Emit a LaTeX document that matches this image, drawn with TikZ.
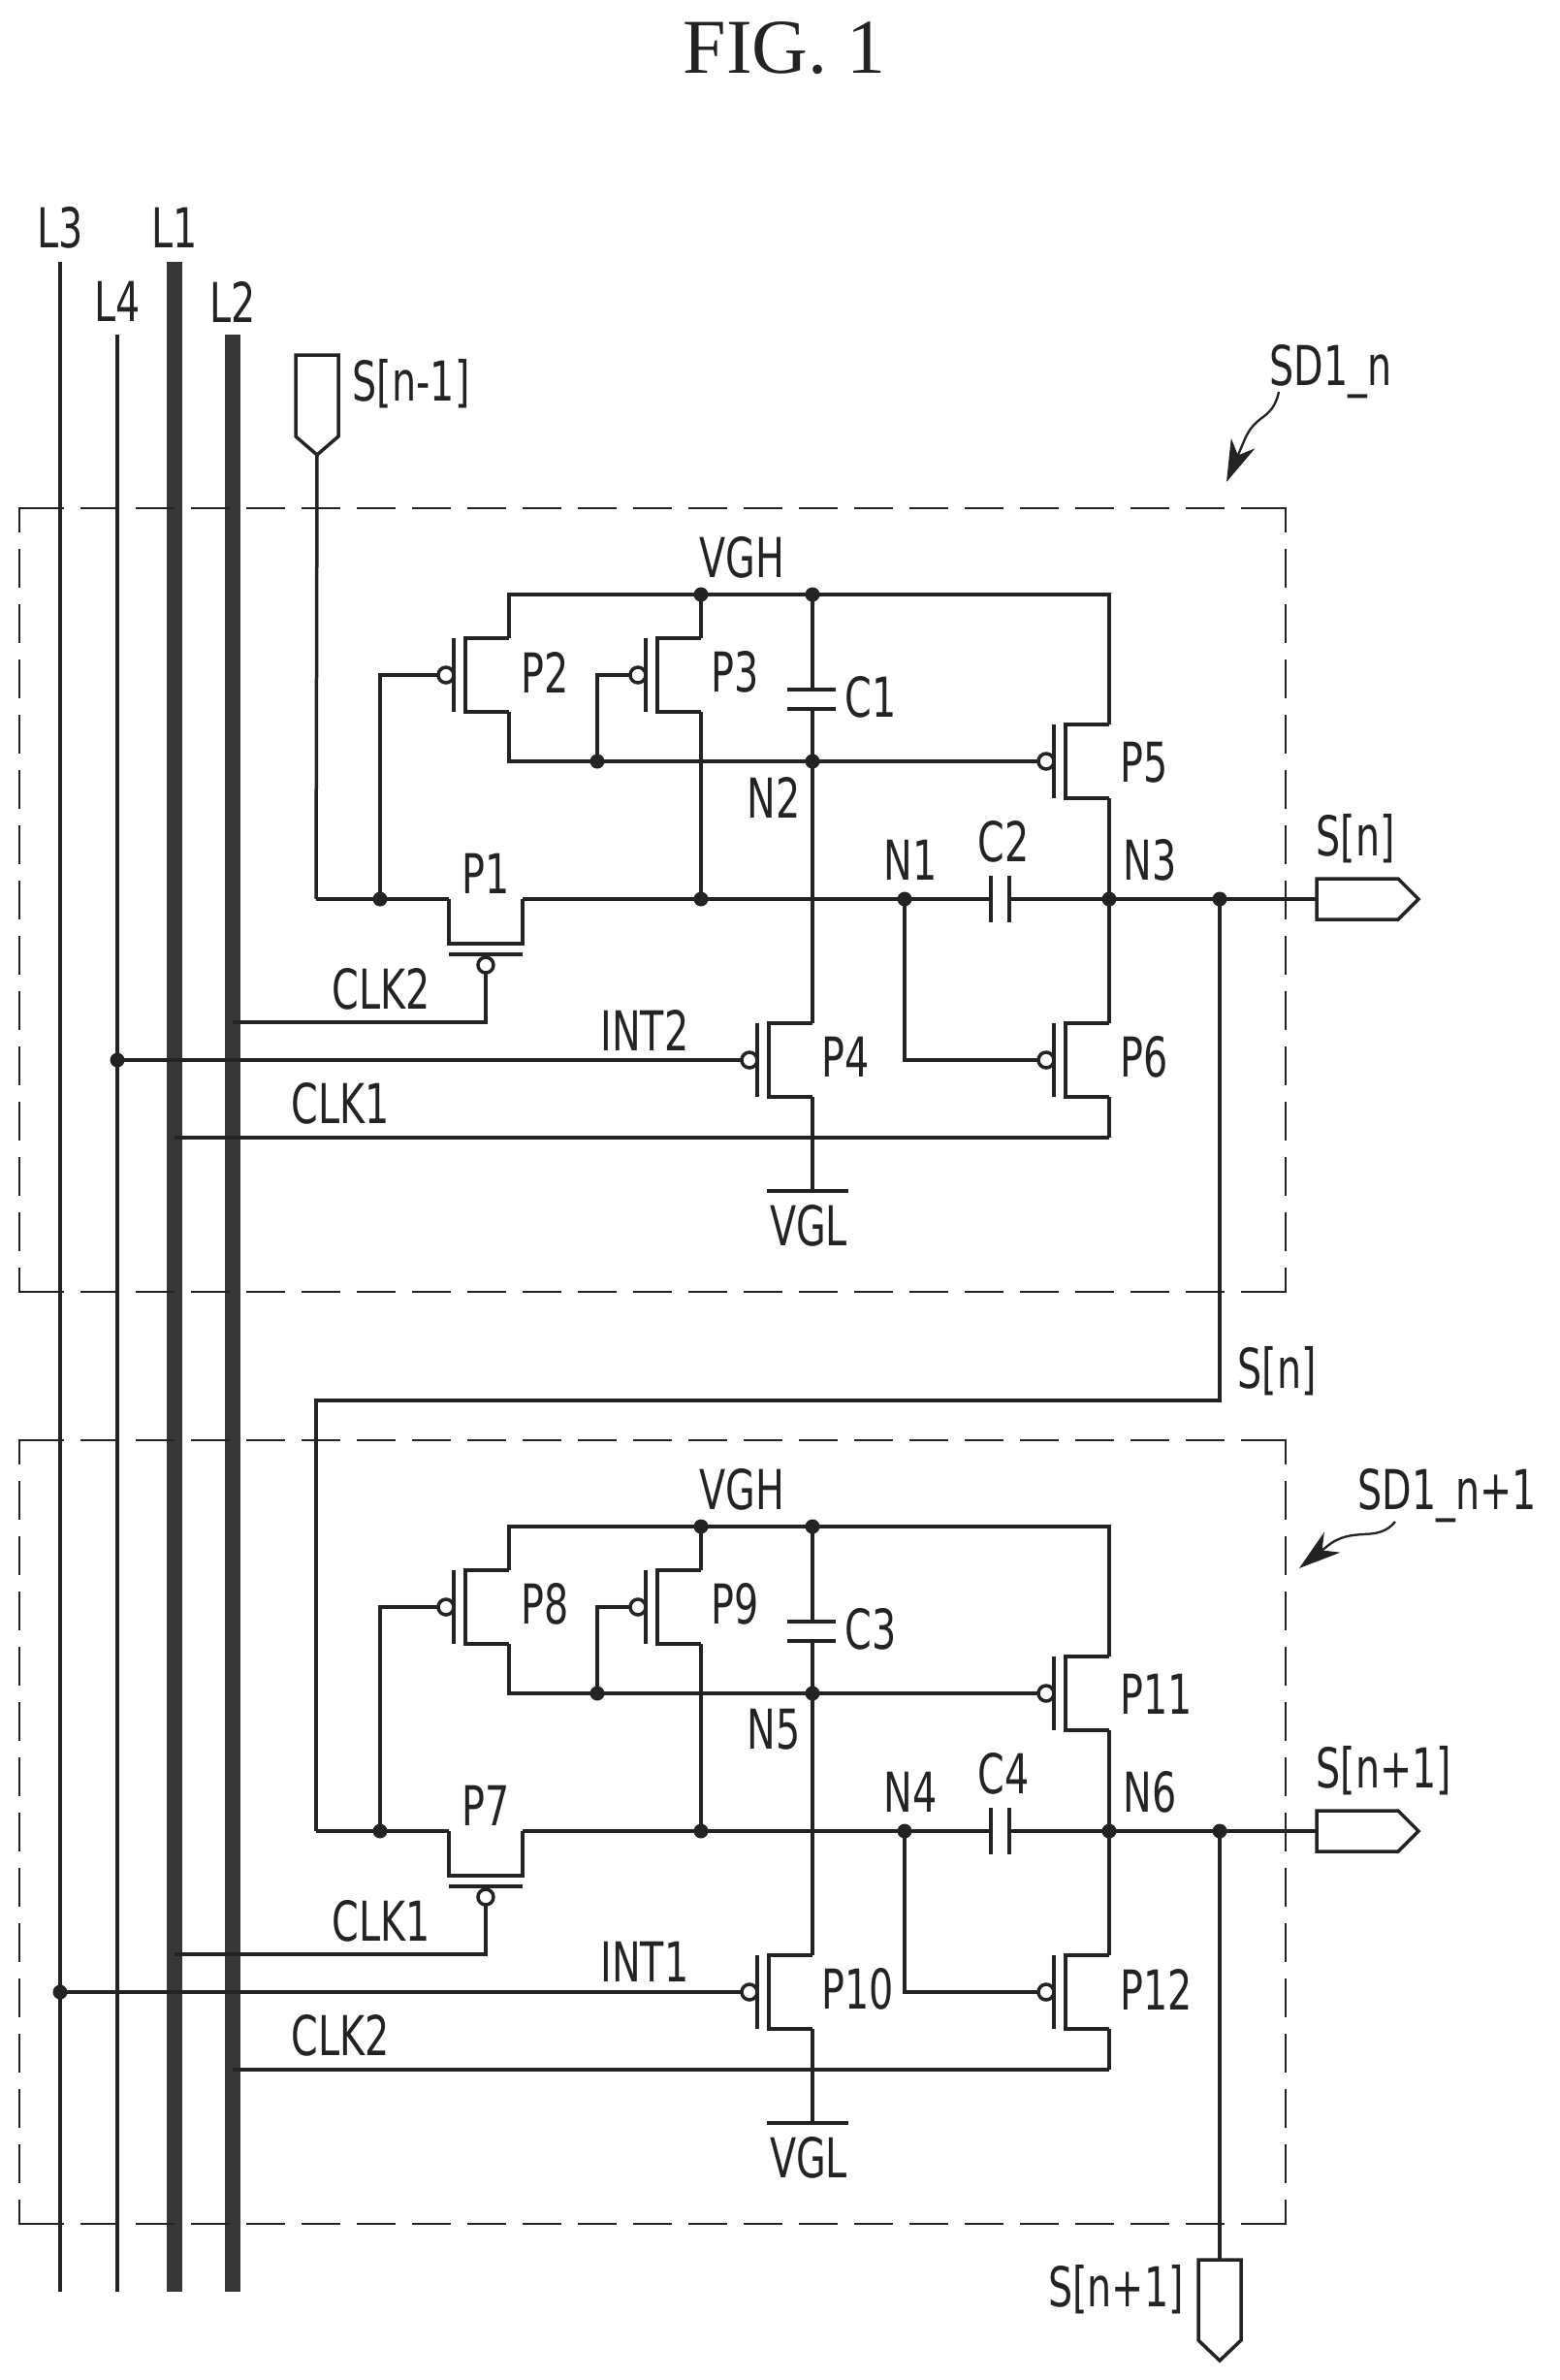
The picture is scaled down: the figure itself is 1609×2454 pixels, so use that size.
\documentclass[tikz,border=0pt]{standalone}
\usepackage{fontspec}
\usetikzlibrary{arrows.meta}
\setmainfont{Liberation Serif}
\newfontfamily\labelfont[FakeStretch=0.70]{DejaVu Sans}
\definecolor{wire1}{RGB}{35,35,35}
\definecolor{bar1}{RGB}{55,55,55}
\tikzset{
    wire/.style={draw=wire1, line width=1.05pt},
    thinwire/.style={draw=wire1, line width=1pt},
    bar/.style={draw=bar1, line width=4.9pt},
    framecorner/.style={draw=wire1, line width=0.7pt},
    frame/.style={draw=wire1, line width=0.7pt, dash pattern=on 12pt off 5.1pt},
    lbl/.style={font=\labelfont\fontsize{17}{17}\selectfont, inner sep=0pt, text=wire1},
    pfet/.pic={
        \coordinate (-d) at (0,-38);
        \coordinate (-s) at (0,38);
        \coordinate (-g) at (-73,0);
        \draw[wire] (-d) -- (-45,-38) -- (-45,38) -- (-s);
        \draw[wire, line width=1.25pt] (-57,-38) -- (-57,38);
        \draw[wire] (-65,0) circle (8);
    },
    pfetdown/.pic={
        \coordinate (-l) at (-38,0);
        \coordinate (-r) at (38,0);
        \coordinate (-g) at (0,76);
        \draw[wire] (-l) -- (-38,46) -- (38,46) -- (-r);
        \draw[wire, line width=1.25pt] (-38,57) -- (38,57);
        \draw[wire] (0,68) circle (8);
    }
}
\begin{document}
\begin{tikzpicture}[x=0.3pt, y=-0.3pt]
    \useasboundingbox (0,0) rectangle (1609,2454);

    \node[font=\fontsize{24}{24}\selectfont, inner sep=0pt, text=wire1] (fig) at (809,50) {FIG. 1};

    % supply lines
    \coordinate (L3) at (62,270);
    \coordinate (L4) at (121,345);
    \coordinate (L1) at (180,270);
    \coordinate (L2) at (240,345);
    \draw[thinwire] (L3) -- (L3 |- 0,2363);
    \draw[thinwire] (L4) -- (L4 |- 0,2363);
    \draw[bar] (L1) -- (L1 |- 0,2363);
    \draw[bar] (L2) -- (L2 |- 0,2363);
    \node[lbl] (txtL3) at (62,235) {L3};
    \node[lbl] (txtL1) at (180,235) {L1};
    \node[lbl] (txtL4) at (121,311) {L4};
    \node[lbl] (txtL2) at (240,311) {L2};

    % the two stages
    \foreach \i/\yo/\pn/\cn/\nn/\cka/\ckb/\intn/\ra/\rb/\rc/\son in {
        1/0/1/1/1/CLK2/CLK1/INT2/L2/L1/L4/{S[n]},
        2/961/7/3/4/CLK1/CLK2/INT1/L1/L2/L3/{S[n+1]}} {
    \begin{scope}[shift={(0,\yo)}]
        \pgfmathtruncatemacro{\pb}{\pn+1}
        \pgfmathtruncatemacro{\pc}{\pn+2}
        \pgfmathtruncatemacro{\pd}{\pn+3}
        \pgfmathtruncatemacro{\pe}{\pn+4}
        \pgfmathtruncatemacro{\pf}{\pn+5}
        \pgfmathtruncatemacro{\cb}{\cn+1}
        \pgfmathtruncatemacro{\nb}{\nn+1}
        \pgfmathtruncatemacro{\nc}{\nn+2}

        % dashed box
        \draw[framecorner] (66,524) -- (20,524) -- (20,549);
        \draw[framecorner] (1280,524) -- (1326,524) -- (1326,549);
        \draw[framecorner] (66,1332) -- (20,1332) -- (20,1307);
        \draw[framecorner] (1280,1332) -- (1326,1332) -- (1326,1307);
        \draw[frame] (83,524) -- (1263,524);
        \draw[frame] (83,1332) -- (1263,1332);
        \draw[frame] (20,566) -- (20,1290);
        \draw[frame] (1326,566) -- (1326,1290);

        \coordinate (rail1) at (525,613);
        \coordinate (rail2) at (723,613);
        \coordinate (rail3) at (838,613);
        \coordinate (rail4) at (1144,613);
        \coordinate (mid1) at (525,785);
        \coordinate (mid2) at (616,785);
        \coordinate (mid3) at (838,785);
        \coordinate (in\i) at (326,927);
        \coordinate (in2g) at (392,927);
        \coordinate (node3) at (723,927);
        \coordinate (node1) at (933,927);
        \coordinate (node4) at (1144,927);
        \coordinate (tap\i) at (1258,927);
        \coordinate (out) at (1358,927);
        \coordinate (low) at (1144,1173);
        \coordinate (vgl) at (838,1228);

        \pic (pa) at (501,927) {pfetdown};
        \pic (pb) at (525,696) {pfet};
        \pic (pc) at (723,696) {pfet};
        \pic (pd) at (838,1093) {pfet};
        \pic (pe) at (1144,785) {pfet};
        \pic (pf) at (1144,1093) {pfet};

        % VGH rail and the middle line
        \draw[wire] (pb-d) -- (rail1) -- (rail2) -- (rail3) -- (rail4) -- (pe-d);
        \draw[wire] (rail2) -- (pc-d);
        \draw[wire] (pc-s) -- (node3);
        \draw[wire] (pb-s) -- (mid1) -- (mid2) -- (mid3) -- (pe-g);
        \draw[wire] (pb-g) -| (in2g);
        \draw[wire] (pc-g) -| (mid2);

        % C1
        \draw[wire] (rail3) -- (838,711);
        \draw[wire] (812,711) -- (862,711);
        \draw[wire] (812,731) -- (862,731);
        \draw[wire] (838,731) -- (mid3) -- (pd-d);
        \draw[wire] (pd-s) -- (vgl);
        \draw[wire] (791,1228) -- (875,1228);

        % line through P1 and C2
        \draw[wire] (in\i) -- (in2g) -- (pa-l);
        \draw[wire] (pa-r) -- (node3) -- (node1) -- (1022,927);
        \draw[wire, line width=1.25pt] (1022,903) -- (1022,951);
        \draw[wire, line width=1.25pt] (1041,903) -- (1041,951);
        \draw[wire] (1041,927) -- (node4) -- (tap\i) -- (out);
        \draw[wire] (node1) |- (pf-g);
        \draw[wire] (pe-s) -- (node4) -- (pf-d);
        \draw[wire] (pf-s) -- (low);

        % gate lines
        \draw[wire] (\ra |- 0,1054) -| (pa-g);
        \draw[wire] (\rc |- pd-g) -- (pd-g);
        \draw[wire] (\rb |- low) -- (low);

        % output pin
        \draw[wire, fill=white] (out) -- ++(0,-21) -- ++(84,0) -- ++(21,21) -- ++(-21,21) -- ++(-84,0) -- cycle;

        % points
        \fill[wire1] (\rc |- pd-g) circle (7.5);
        \foreach \p in {rail2,rail3,mid2,mid3,in2g,node3,node1,node4,tap\i}
            \fill[wire1] (\p) circle (7.5);

        % labels
        \node[lbl] (vgh\i) at (765,575) {VGH};
        \node[lbl] (vgltxt\i) at (834,1264) {VGL};
        \node[lbl] (txta\i) at (501,901) {P\pn};
        \node[lbl, anchor=west] (txtb\i) at (537,693) {P\pb};
        \node[lbl, anchor=west] (txtc\i) at (733,693) {P\pc};
        \node[lbl, anchor=west] (txtd\i) at (847,1090) {P\pd};
        \node[lbl, anchor=west] (txte\i) at (1155,786) {P\pe};
        \node[lbl, anchor=west] (txtf\i) at (1155,1090) {P\pf};
        \node[lbl] (capa\i) at (898,719) {C\cn};
        \node[lbl] (capb\i) at (1035,868) {C\cb};
        \node[lbl] (nda\i) at (939,887) {N\nn};
        \node[lbl] (ndb\i) at (798,822) {N\nb};
        \node[lbl] (ndc\i) at (1186,887) {N\nc};
        \node[lbl] (cka\i) at (393,1020) {\cka};
        \node[lbl] (int\i) at (665,1062) {\intn};
        \node[lbl] (ckb\i) at (351,1138) {\ckb};
        \node[lbl, anchor=west] (son\i) at (1357,865) {\son};
    \end{scope}
    }

    % input pin and the line between the stages
    \coordinate (pinin) at (327,469);
    \draw[wire] (pinin) -- (in1);
    \draw[wire] (pinin) -- ++(-22,-19) -- ++(0,-84) -- ++(44,0) -- ++(0,84) -- cycle;
    \node[lbl, anchor=west] (sprev) at (363,396) {S[n-1]};

    \coordinate (bend) at (1258,1444);
    \draw[wire] (tap1) -- (bend) -- (in2 |- bend) -- (in2);
    \node[lbl] (sfeed) at (1317,1414) {S[n]};

    % last pin
    \coordinate (pinout) at (1258,2330);
    \draw[wire] (tap2) -- (pinout);
    \draw[wire] (pinout) -- ++(22,0) -- ++(0,83) -- ++(-22,21) -- ++(-22,-21) -- ++(0,-83) -- cycle;
    \node[lbl] (slast) at (1151,2361) {S[n+1]};

    % stage names
    \node[lbl, anchor=base west] (sda) at (1309,397) {SD1\_n};
    \coordinate (sdafrom) at (1319,404);
    \coordinate (sdato) at (1265,497);
    \draw[draw=wire1, line width=0.7pt, -{Stealth[length=13pt,width=8pt,inset=4pt]}] (sdafrom) .. controls (1312,435) and (1295,425) .. (1283,455) -- (sdato);

    \node[lbl, anchor=base west] (sdb) at (1400,1556) {SD1\_n+1};
    \coordinate (sdbfrom) at (1439,1569);
    \coordinate (sdbto) at (1340,1617);
    \draw[draw=wire1, line width=0.7pt, -{Stealth[length=13pt,width=8pt,inset=4pt]}] (sdbfrom) .. controls (1420,1592) and (1395,1572) .. (1368,1595) -- (sdbto);
\end{tikzpicture}
\end{document}
